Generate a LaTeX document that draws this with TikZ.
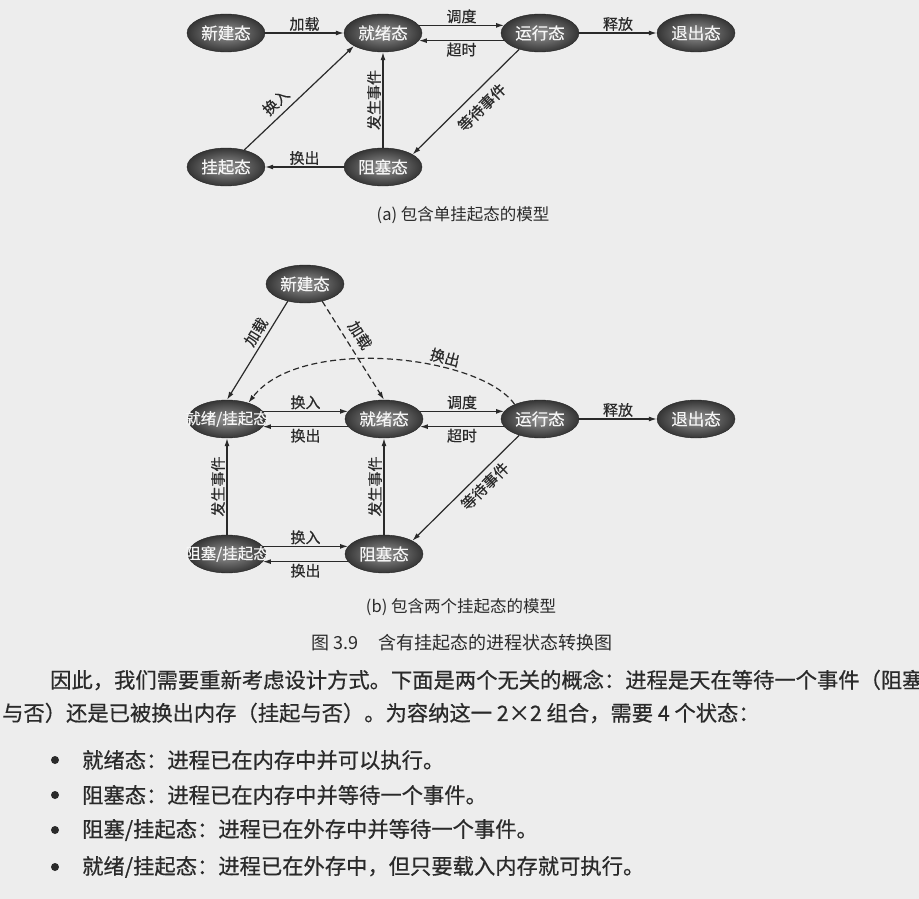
\documentclass[tikz,border=0pt]{standalone}
\usepackage{fontspec}
\setmainfont{Noto Sans CJK SC}
\newfontfamily\bodyfont{Noto Sans CJK SC}[FakeBold=0.6]
\newfontfamily\labfont{Noto Sans CJK SC}[FakeBold=0.3]
\usetikzlibrary{arrows.meta,shapes.geometric}
\definecolor{paper}{HTML}{EDEDED}
\definecolor{ink}{HTML}{2A2A2A}
\definecolor{ballin}{HTML}{959595}
\definecolor{ballout}{HTML}{353535}
\begin{document}
\begin{tikzpicture}[x=1pt,y=-1pt,
  proc/.style={ellipse, minimum width=78pt, minimum height=38pt, inner sep=0pt,
    inner color=ballin, outer color=ballout, draw=ballout!70!black, line width=0.4pt,
    text=white!96!black, font=\labfont\fontsize{16.5}{16.5}\selectfont},
  tr/.style={draw=ink, line width=1.2pt, -{Latex[length=8pt,width=5pt]}},
  dsh/.style={dash pattern=on 6pt off 3.5pt},
  lab/.style={font=\labfont\fontsize{15}{15}\selectfont, text=ink, inner sep=1.5pt},
  body/.style={font=\bodyfont\fontsize{21.3}{22}\selectfont, text=ink, inner sep=0pt},
  captext/.style={font=\fontsize{16.5}{16.5}\selectfont, text=ink, inner sep=0pt},
]
\useasboundingbox (0,0) rectangle (919,899);
\clip (0,0) rectangle (919,899);
\fill[paper] (0,0) rectangle (919,899);

% ---------- (a) ----------
\node[proc] (an) at (226,33) {新建态};
\node[proc] (ar) at (383,33) {就绪态};
\node[proc] (ax) at (540,33) {运行态};
\node[proc] (ae) at (696,33) {退出态};
\node[proc] (as) at (226,167) {挂起态};
\node[proc] (ab) at (383,167) {阻塞态};

\draw[tr] (an) -- node[lab,above]{加载} (ar);
\draw[tr] (ar.12) -- node[lab,above]{调度} (ax.168);
\draw[tr] (ax.192) -- node[lab,below]{超时} (ar.-12);
\draw[tr] (ax) -- node[lab,above]{释放} (ae);
\draw[tr] (ax.218) -- node[lab,below=6pt,sloped,pos=0.45]{等待事件} (ab.23);
\draw[tr] (ab) -- node[lab,above]{换出} (as);
\draw[tr] (as.43) -- node[lab,above=4pt,sloped,pos=0.37]{换入} (ar.204);
\draw[tr] (ab) -- node[lab,above,rotate=90]{发生事件} (ar);

\node[captext] (capa) at (463,215) {(a) 包含单挂起态的模型};

% ---------- (b) ----------
\node[proc] (bn) at (305,284) {新建态};
\node[proc] (brs) at (227,419) {\makebox[0pt]{\fontsize{15.5}{15.5}\selectfont 就绪/挂起态}};
\node[proc] (br) at (384,419) {就绪态};
\node[proc] (bx) at (540,419) {运行态};
\node[proc] (be) at (696,419) {退出态};
\node[proc] (bbs) at (227,554) {\makebox[0pt]{\fontsize{15.5}{15.5}\selectfont 阻塞/挂起态}};
\node[proc] (bb) at (384,554) {阻塞态};

\draw[tr] (bn.225) -- node[lab,above=2pt,sloped,pos=0.37]{加载} (brs.north);
\draw[tr,dsh] (bn.315) -- node[lab,above=5pt,sloped,pos=0.42]{加载} (br.north);
\draw[tr,dsh] (bx.150) .. controls (480,355) and (300,335) .. (brs.37)
  node[lab,pos=0.33,above=1pt,rotate=-15]{换出};
\draw[tr] (brs.12) -- node[lab,above]{换入} (br.168);
\draw[tr] (br.192) -- node[lab,below]{换出} (brs.-12);
\draw[tr] (br.12) -- node[lab,above]{调度} (bx.168);
\draw[tr] (bx.192) -- node[lab,below]{超时} (br.-12);
\draw[tr] (bx) -- node[lab,above]{释放} (be);
\draw[tr] (bx.218) -- node[lab,below=3pt,sloped,pos=0.4]{等待事件} (bb.25);
\draw[tr] (bbs) -- node[lab,above,rotate=90]{发生事件} (brs);
\draw[tr] (bb) -- node[lab,above,rotate=90]{发生事件} (br);
\draw[tr] (bbs.12) -- node[lab,above]{换入} (bb.168);
\draw[tr] (bb.192) -- node[lab,below]{换出} (bbs.-12);

\node[captext] (capb) at (461,607) {(b) 包含两个挂起态的模型};
\node[captext,font=\fontsize{18}{18}\selectfont] (fig) at (462,643) {图 3.9\hspace{1.1em}含有挂起态的进程状态转换图};

% ---------- body text ----------
\node[body,anchor=west] (p1) at (50,680) {因此，我们需要重新考虑设计方式。下面是两个无关的概念：进程是天在等待一个事件（阻塞};
\node[body,anchor=west] (p2) at (2,713) {与否）还是已被换出内存（挂起与否）。为容纳这一 2×2 组合，需要 4 个状态：};

\foreach \yy/\btxt [count=\i] in {760/{就绪态：进程已在内存中并可以执行。},
                                795/{阻塞态：进程已在内存中并等待一个事件。},
                                830/{阻塞/挂起态：进程已在外存中并等待一个事件。},
                                867/{就绪/挂起态：进程已在外存中，但只要载入内存就可执行。}}{
  \fill[ink] (55,\yy) circle (4pt);
  \node[body,anchor=west] (b\i) at (82,\yy) {\btxt};
}
\end{tikzpicture}
\end{document}
